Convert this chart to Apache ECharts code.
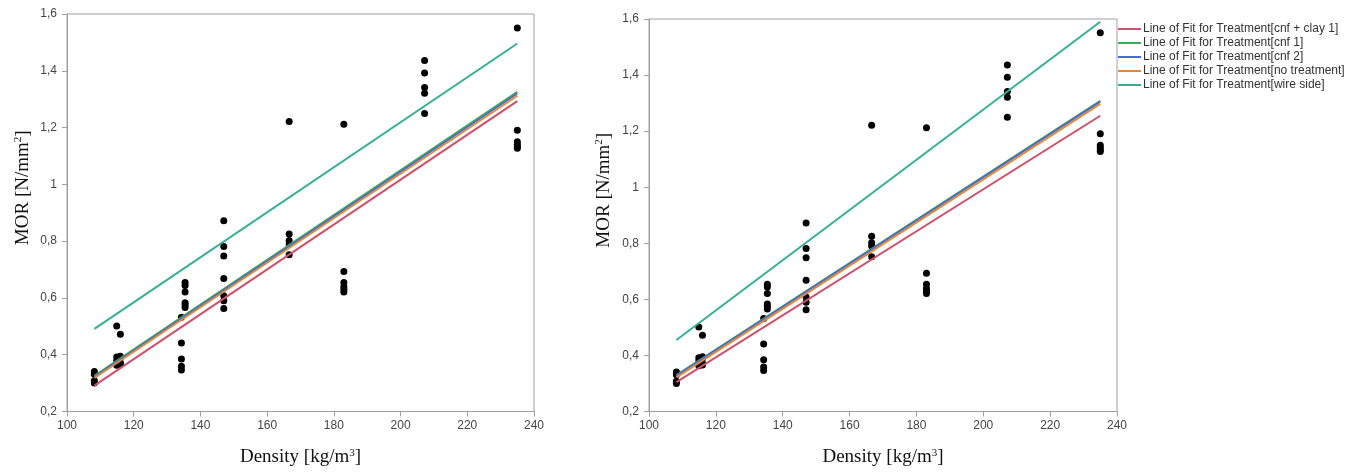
<!DOCTYPE html>
<html>
<head>
<meta charset="utf-8">
<script src="https://cdn.jsdelivr.net/npm/echarts@6/dist/echarts.min.js"></script>
<style>
html,body{margin:0;padding:0;background:#fff;}
#chart{width:1360px;height:472px;}
</style>
</head>
<body>
<div id="chart"></div>
<script>
// ---- Data ----
const density = [108.2,108.2,108.2,108.2, 114.9,114.9,114.9,114.9, 116,116,116,116,116,
  134.3,134.3,134.3,134.3,134.3, 135.4,135.4,135.4,135.4,135.4,135.4,
  147,147,147,147,147,147,147, 166.6,166.6,166.6,166.6,166.6,
  183,183,183,183,183,183, 207.2,207.2,207.2,207.2,207.2, 235,235,235,235,235,235];
const mor = [0.341,0.331,0.308,0.300, 0.501,0.392,0.380,0.363, 0.472,0.395,0.389,0.372,0.366,
  0.532,0.441,0.385,0.359,0.346, 0.654,0.644,0.621,0.583,0.575,0.566,
  0.872,0.781,0.748,0.668,0.608,0.590,0.563, 1.221,0.825,0.802,0.790,0.752,
  1.212,0.693,0.654,0.639,0.630,0.621, 1.436,1.392,1.341,1.321,1.250,
  1.551,1.191,1.150,1.141,1.133,1.127];

const treatments = ['Line of Fit for Treatment[cnf + clay 1]','Line of Fit for Treatment[cnf 1]',
  'Line of Fit for Treatment[cnf 2]','Line of Fit for Treatment[no treatment]','Line of Fit for Treatment[wire side]'];
const fitX = [108.2, 235];
// left panel fit lines (y at fitX)
const fitLeftClay = [0.291, 1.293];
const fitLeftCnf1 = [0.326, 1.326];
const fitLeftCnf2 = [0.322, 1.320];
const fitLeftNoTreat = [0.318, 1.312];
const fitLeftWire = [0.491, 1.496];
// right panel fit lines
const fitRightClay = [0.305, 1.255];
const fitRightCnf1 = [0.330, 1.308];
const fitRightCnf2 = [0.328, 1.305];
const fitRightNoTreat = [0.322, 1.297];
const fitRightWire = [0.455, 1.590];

const colors = ['#d0506a','#3fad55','#4a6bd0','#e0893a','#34b096'];

// ---- Build ----
const pts = density.map((d,i)=>[d, mor[i]]);
const fitsLeft = [fitLeftClay, fitLeftCnf1, fitLeftCnf2, fitLeftNoTreat, fitLeftWire];
const fitsRight = [fitRightClay, fitRightCnf1, fitRightCnf2, fitRightNoTreat, fitRightWire];

const fmt = v => String(Math.round(v*10)/10).replace('.', ',');
const rich = {
  sup: {fontFamily:'Liberation Serif', fontSize: 11, color:'#111', verticalAlign:'top', padding:[0,0,9,0]},
};
function xAx(i){
  return {
    type:'value', gridIndex:i, min:100, max:240, interval:20,
    name:'Density [kg/m{sup|3}]', nameLocation:'middle', nameGap:36,
    nameTextStyle:{fontFamily:'Liberation Serif', fontSize:19, color:'#111', rich},
    axisLine:{show:true, lineStyle:{color:'#a0a0a0', width:1}},
    axisTick:{show:true, length:5, lineStyle:{color:'#a0a0a0'}},
    axisLabel:{margin:8, color:'#444', fontSize:12, fontFamily:'Liberation Sans', formatter:fmt},
    splitLine:{show:false}
  };
}
function yAx(i, gap){
  return {
    type:'value', gridIndex:i, min:0.2, max:1.6, interval:0.2,
    name:'MOR [N/mm{sup|2}]', nameLocation:'middle', nameGap:gap, nameRotate:90,
    nameTextStyle:{fontFamily:'Liberation Serif', fontSize:19, color:'#111', rich, padding:[0,0,0,50]},
    axisLine:{show:true, lineStyle:{color:'#a0a0a0', width:1}},
    axisTick:{show:true, length:5, lineStyle:{color:'#a0a0a0'}},
    axisLabel:{margin:10, color:'#444', fontSize:12, fontFamily:'Liberation Sans', formatter:fmt},
    splitLine:{show:false}
  };
}
const series = [];
[0,1].forEach(g=>{
  series.push({type:'scatter', xAxisIndex:g, yAxisIndex:g, data:pts, symbolSize:7,
    itemStyle:{color:'#000', opacity:1}, silent:true, z:2});
  const fits = g===0 ? fitsLeft : fitsRight;
  fits.forEach((f,k)=>{
    series.push({type:'line', name:treatments[k], xAxisIndex:g, yAxisIndex:g,
      data: fitX.map((x,j)=>[x, f[j]]), showSymbol:false, symbol:'none',
      lineStyle:{color:colors[k], width:2}, itemStyle:{color:colors[k]}, silent:true, z:3+k});
  });
});

const chart = echarts.init(document.getElementById('chart'));
chart.setOption({
  animation:false,
  backgroundColor:'#fff',
  grid:[
    {left:67, top:14, width:467, height:402, show:true, borderColor:'#a0a0a0', borderWidth:1, backgroundColor:'transparent'},
    {left:649, top:19, width:468, height:401, show:true, borderColor:'#a0a0a0', borderWidth:1, backgroundColor:'transparent'}
  ],
  xAxis:[xAx(0), xAx(1)],
  yAxis:[yAx(0, 34), yAx(1, 35)],
  legend:{
    data: treatments.map(n=>({name:n, icon:'rect'})),
    orient:'vertical', left:1118, top:22, itemWidth:23, itemHeight:2, itemGap:0,
    padding:0, selectedMode:false,
    textStyle:{fontFamily:'Liberation Sans', fontSize:12, color:'#333', lineHeight:14, padding:[0,0,0,-3]}
  },
  series
});
</script>
</body>
</html>
